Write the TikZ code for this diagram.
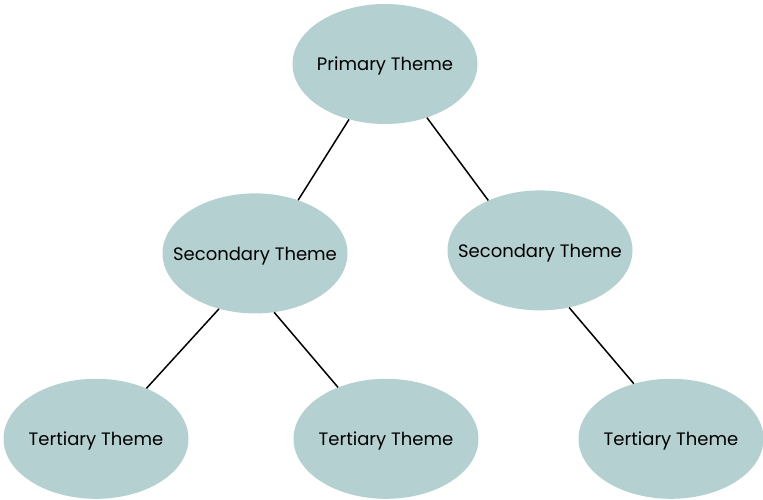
\documentclass[tikz,border=0pt]{standalone}
\usepackage{fontspec}
\setmainfont{Poppins}
\usetikzlibrary{positioning,shapes.geometric}

\definecolor{themefill}{RGB}{181,208,209}

\tikzset{
	theme/.style={ellipse, fill=themefill, minimum width=185pt, minimum height=120pt, inner sep=0pt,
		font=\fontsize{18}{20}\selectfont, text depth=0pt,
		execute at begin node={\hbox to 0pt\bgroup\hss},
		execute at end node={\hss\egroup}},
	link/.style={draw=black, line width=1.5pt}
}

\begin{document}
\begin{tikzpicture}[x=1pt,y=1pt]
	\useasboundingbox (0,0) rectangle (763,-500);
	\node [theme] (prim) at (385,-64) {Primary Theme};
	\node [theme, below=69pt of prim, xshift=-130pt] (secl) {Secondary Theme};
	\node [theme, below=66pt of prim, xshift=155pt] (secr) {Secondary Theme};
	\node [theme, below=65pt of secl, xshift=-159pt] (terl) {Tertiary Theme};
	\node [theme, below=65pt of secl, xshift=131pt] (term) {Tertiary Theme};
	\node [theme, below=68pt of secr, xshift=131pt] (terr) {Tertiary Theme};

	\draw [link] (prim.-123) -- (secl.51);
	\draw [link] (prim.-52) -- (secr.136);
	\draw [link] (secl.-123) -- (terl.45);
	\draw [link] (secl.-72) -- (term.133);
	\draw [link] (secr.-63) -- (terr.124);
\end{tikzpicture}
\end{document}
